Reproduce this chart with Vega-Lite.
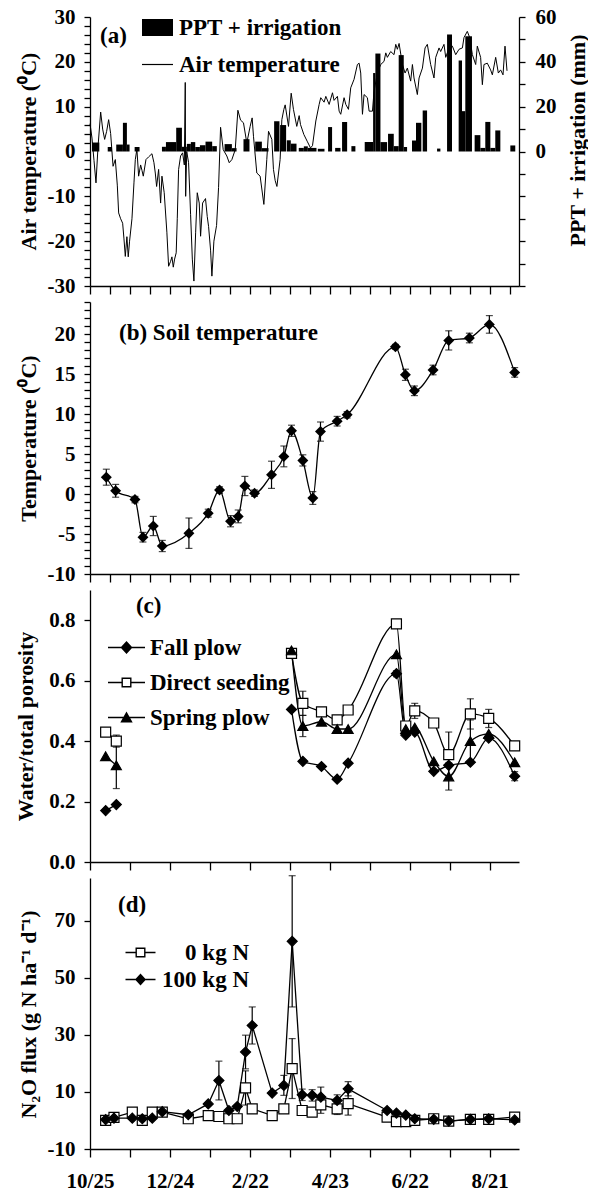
{
  "$schema": "https://vega.github.io/schema/vega-lite/v6.json",
  "background": "white",
  "padding": {"left": 14, "top": 6, "right": 0, "bottom": 0},
  "spacing": 16,
  "bounds": "flush",
  "config": {
    "view": {"stroke": null},
    "font": "Liberation Serif",
    "axis": {
      "labelFont": "Liberation Serif", "labelFontSize": 21, "labelFontWeight": "bold", "labelColor": "black",
      "titleFont": "Liberation Serif", "titleFontSize": 22, "titleFontWeight": "bold", "titleColor": "black",
      "domainColor": "black", "domainWidth": 1.3, "tickColor": "black", "tickWidth": 1.3,
      "grid": false, "labelFlush": false, "labelOverlap": false, "labelPadding": 9
    },
    "legend": {
      "labelFont": "Liberation Serif", "labelFontSize": 23, "labelFontWeight": "bold", "labelColor": "black",
      "labelLimit": 0, "padding": 0, "symbolSize": 400, "symbolFillColor": "black", "symbolStrokeWidth": 0,
      "symbolOpacity": 1
    },
    "title": {"font": "Liberation Serif", "fontWeight": "bold", "fontSize": 23, "color": "black"},
    "text": {"font": "Liberation Serif", "fontWeight": "bold", "fontSize": 23, "color": "black"}
  },
  "datasets": {
    "air": [
      {"day":0,"temp":6.2},{"day":1.5,"temp":3},{"day":3,"temp":-2},{"day":4.5,"temp":-7},{"day":6,"temp":1},
      {"day":8,"temp":8.8},{"day":9.5,"temp":5},{"day":11,"temp":2.7},{"day":12.5,"temp":4.5},{"day":14,"temp":7.1},
      {"day":15.5,"temp":4},{"day":17.3,"temp":-3.3},{"day":19,"temp":-1.8},{"day":20.5,"temp":-7.5},{"day":21.5,"temp":-13.7},
      {"day":23,"temp":-15},{"day":24.5,"temp":-16},{"day":25.5,"temp":-19.5},{"day":26.5,"temp":-23.4},{"day":27.7,"temp":-19},
      {"day":28.7,"temp":-23.5},{"day":29.7,"temp":-20},{"day":31.5,"temp":-15},{"day":33,"temp":-7},{"day":34,"temp":-1.8},
      {"day":35.2,"temp":0.5},{"day":36.5,"temp":-5.5},{"day":38,"temp":-3},{"day":39,"temp":-4.2},{"day":40,"temp":-5.5},
      {"day":42,"temp":-1.8},{"day":44,"temp":-1.2},{"day":46.5,"temp":-0.5},{"day":48,"temp":-2.5},{"day":49,"temp":-4.8},
      {"day":50,"temp":-7.8},{"day":51.5,"temp":-4},{"day":53,"temp":-11.5},{"day":54,"temp":-5.5},{"day":55.7,"temp":-9.2},
      {"day":57.7,"temp":-18},{"day":59,"temp":-25.6},{"day":60.5,"temp":-24.5},{"day":61.5,"temp":-23.5},{"day":62.5,"temp":-25.8},
      {"day":63.5,"temp":-24},{"day":64.7,"temp":-22.6},{"day":65.5,"temp":-15},{"day":66.5,"temp":-4},{"day":68,"temp":-1},
      {"day":69.5,"temp":-0.3},{"day":70.8,"temp":-3},{"day":71.5,"temp":15.4},{"day":71.8,"temp":-10},{"day":72.6,"temp":0},
      {"day":74,"temp":-2.5},{"day":75.5,"temp":-14},{"day":76.8,"temp":-24},{"day":78,"temp":-28.9},{"day":79.3,"temp":-18},
      {"day":80.5,"temp":-9.2},{"day":82,"temp":-11.5},{"day":83,"temp":-18.9},{"day":84.5,"temp":-11.5},{"day":86.7,"temp":-10.5},
      {"day":88,"temp":-14.5},{"day":89,"temp":-16.7},{"day":90.5,"temp":-22},{"day":91.5,"temp":-27.8},{"day":93,"temp":-20},
      {"day":95,"temp":-16.5},{"day":96.5,"temp":-8},{"day":98,"temp":5.4},{"day":100,"temp":0.4},{"day":102.7,"temp":-1},
      {"day":104.5,"temp":-2.5},{"day":106.5,"temp":-1.8},{"day":109,"temp":0.4},{"day":111,"temp":9.2},{"day":113,"temp":7},
      {"day":115.2,"temp":6.4},{"day":117.7,"temp":1.9},{"day":120.2,"temp":5.6},{"day":121.7,"temp":7.5},{"day":122.7,"temp":3.4},
      {"day":125.2,"temp":-4.8},{"day":127.7,"temp":-5.5},{"day":130.5,"temp":-11.8},{"day":132.7,"temp":-1.8},{"day":134,"temp":4.5},
      {"day":136.5,"temp":2.7},{"day":137.7,"temp":-4},{"day":139,"temp":-6.5},{"day":140.3,"temp":-7.8},{"day":142.7,"temp":-1.8},
      {"day":144,"temp":7.1},{"day":145.5,"temp":9.4},{"day":146.5,"temp":10.4},{"day":149,"temp":5.6},{"day":151,"temp":13},
      {"day":152.7,"temp":9.4},{"day":155.2,"temp":5.6},{"day":157,"temp":8},{"day":158,"temp":6},{"day":160.5,"temp":3.8},
      {"day":163,"temp":2.3},{"day":165.5,"temp":0.8},{"day":167,"temp":1.3},{"day":169.5,"temp":6.8},{"day":172,"temp":10.5},
      {"day":173.2,"temp":12},{"day":175.7,"temp":11},{"day":177,"temp":12.3},{"day":179.5,"temp":10.5},{"day":182,"temp":13.1},
      {"day":183.2,"temp":11.4},{"day":185.7,"temp":12.3},{"day":187,"temp":9},{"day":188.2,"temp":8.3},{"day":190.7,"temp":12},
      {"day":192,"temp":10.5},{"day":194,"temp":9.4},{"day":195.7,"temp":14.2},{"day":198.2,"temp":16.1},{"day":200.7,"temp":19.4},
      {"day":202,"temp":19.7},{"day":203.2,"temp":17.5},{"day":204.5,"temp":8.3},{"day":205.7,"temp":12.7},{"day":208.2,"temp":12},
      {"day":209.5,"temp":9},{"day":212,"temp":9},{"day":213.2,"temp":13.4},{"day":215.7,"temp":17.5},{"day":218.2,"temp":19.4},
      {"day":220.7,"temp":20.1},{"day":222,"temp":22},{"day":223.2,"temp":21},{"day":225.7,"temp":22.3},{"day":228.2,"temp":21.6},
      {"day":229.5,"temp":23.9},{"day":230.7,"temp":22.8},{"day":232,"temp":24.1},{"day":234.5,"temp":19.4},{"day":236.5,"temp":17.5},
      {"day":238.2,"temp":18.6},{"day":240.7,"temp":15.7},{"day":242,"temp":19.4},{"day":243.2,"temp":16.4},{"day":245.7,"temp":12.7},
      {"day":247,"temp":16.4},{"day":249.5,"temp":18.6},{"day":251.5,"temp":23.1},{"day":253.2,"temp":23.9},{"day":255.7,"temp":19.4},
      {"day":258.2,"temp":16.4},{"day":259.5,"temp":21},{"day":262,"temp":23.1},{"day":263.2,"temp":22.3},{"day":265.7,"temp":23.9},
      {"day":267,"temp":21},{"day":269.5,"temp":23.1},{"day":272,"temp":23.5},{"day":274.5,"temp":21.6},{"day":277,"temp":22.8},
      {"day":279.5,"temp":23.1},{"day":280.7,"temp":25.4},{"day":283.2,"temp":26.8},{"day":285,"temp":25.4},{"day":287,"temp":21.6},
      {"day":289.5,"temp":19.4},{"day":290.7,"temp":23.5},{"day":293.2,"temp":21},{"day":294.5,"temp":14.9},{"day":295.7,"temp":19.4},
      {"day":298.2,"temp":19.7},{"day":300.7,"temp":18.2},{"day":302,"temp":17.1},{"day":304.5,"temp":21},{"day":306.5,"temp":17.5},
      {"day":308.2,"temp":18.2},{"day":310,"temp":17.1},{"day":311.5,"temp":23.5},{"day":313,"temp":18}
    ],
    "rain": [
      {"day":1.5,"end":7,"mm":4},{"day":13.3,"end":16.5,"mm":2},{"day":19.7,"end":24.7,"mm":3.1},{"day":24.7,"end":27.7,"mm":12.8},
      {"day":27.7,"end":29.7,"mm":3.1},{"day":33.5,"end":37.2,"mm":2},{"day":54,"end":57,"mm":2.1},{"day":57,"end":64.7,"mm":4.2},
      {"day":64.7,"end":69,"mm":10.6},{"day":69,"end":72.7,"mm":2.1},{"day":72.7,"end":75.7,"mm":3.4},{"day":75.7,"end":79,"mm":4.2},
      {"day":79,"end":82.5,"mm":2},{"day":82.5,"end":86.7,"mm":2.8},{"day":86.7,"end":91.7,"mm":4.4},{"day":91.7,"end":95.2,"mm":2.4},
      {"day":101,"end":106.5,"mm":3.3},{"day":106.5,"end":110,"mm":1.5},{"day":115.2,"end":119.7,"mm":5.5},{"day":124,"end":129,"mm":4.4},
      {"day":129,"end":134,"mm":1.5},{"day":138.2,"end":142.2,"mm":13.5},{"day":142.7,"end":147.2,"mm":11.8},{"day":147.7,"end":150.7,"mm":5},
      {"day":150.7,"end":155,"mm":3.5},{"day":156.7,"end":160.5,"mm":1.6},{"day":160.5,"end":163.5,"mm":2.3},{"day":163.5,"end":170,"mm":1.6},
      {"day":171,"end":176,"mm":1.2},{"day":178.7,"end":181.7,"mm":10.9},{"day":184,"end":188,"mm":1.6},{"day":189.2,"end":193,"mm":13.2},
      {"day":196.2,"end":199.2,"mm":2.4},{"day":206.2,"end":212.5,"mm":4.2},{"day":212.5,"end":214.2,"mm":35},{"day":214.2,"end":218,"mm":43.7},
      {"day":218,"end":223,"mm":4.2},{"day":223.7,"end":228,"mm":7.9},{"day":228,"end":231.7,"mm":2.4},{"day":231.7,"end":235.5,"mm":43},
      {"day":235.5,"end":238,"mm":2},{"day":241.7,"end":244.7,"mm":4.9},{"day":244.7,"end":248.7,"mm":12.8},{"day":249.7,"end":253,"mm":18.3},
      {"day":260.5,"end":263,"mm":1.3},{"day":268,"end":271.7,"mm":52.2},{"day":276.7,"end":279.2,"mm":40.6},{"day":279.2,"end":281.7,"mm":18},
      {"day":281.7,"end":286.7,"mm":51.4},{"day":288.7,"end":293,"mm":7.3},{"day":293,"end":296.7,"mm":1.6},{"day":296.7,"end":300.5,"mm":13.2},
      {"day":300.5,"end":304.2,"mm":1.6},{"day":304.2,"end":308,"mm":9.4},{"day":315.5,"end":319.2,"mm":2.7}
    ],
    "soil": [
      {"day":12.25,"temp":2.1,"err":1.0},{"day":19.25,"temp":0.4,"err":0.8},{"day":33.75,"temp":-0.7,"err":0.4},
      {"day":39.75,"temp":-5.4,"err":0.6},{"day":47.5,"temp":-4.0,"err":1.2},{"day":54.25,"temp":-6.5,"err":0.7},
      {"day":74.25,"temp":-4.9,"err":1.9},{"day":88.75,"temp":-2.4,"err":0.5},{"day":97.25,"temp":0.5,"err":0.4},
      {"day":105.5,"temp":-3.4,"err":0.7},{"day":111.25,"temp":-2.8,"err":0.8},{"day":116.25,"temp":1.0,"err":1.2},
      {"day":123.5,"temp":0.1,"err":0.4},{"day":136.25,"temp":2.4,"err":1.7},{"day":145.5,"temp":4.7,"err":1.3},
      {"day":151.25,"temp":7.9,"err":0.7},{"day":159.75,"temp":4.2,"err":0.7},{"day":167.25,"temp":-0.5,"err":0.8},
      {"day":173,"temp":7.8,"err":1.2},{"day":185.5,"temp":9.1,"err":0.6},{"day":193,"temp":9.9,"err":0.4},
      {"day":229.25,"temp":18.4,"err":0.3},{"day":236.75,"temp":14.9,"err":0.7},{"day":243.5,"temp":12.9,"err":0.6},
      {"day":257.5,"temp":15.5,"err":0.6},{"day":269.25,"temp":19.2,"err":1.2},{"day":284.75,"temp":19.5,"err":0.6},
      {"day":299.75,"temp":21.2,"err":1.1},{"day":318.75,"temp":15.2,"err":0.6}
    ],
    "water": [
      {"series":"Fall plow","seg":1,"day":11.75,"v":0.17},{"series":"Fall plow","seg":1,"day":19.75,"v":0.19},
      {"series":"Fall plow","seg":2,"day":151.25,"v":0.505},{"series":"Fall plow","seg":2,"day":159.75,"v":0.333},
      {"series":"Fall plow","seg":2,"day":173.75,"v":0.316},{"series":"Fall plow","seg":2,"day":185.5,"v":0.274},
      {"series":"Fall plow","seg":2,"day":193.75,"v":0.327},{"series":"Fall plow","seg":2,"day":230,"v":0.623,"err":0.01},
      {"series":"Fall plow","seg":2,"day":237,"v":0.42},{"series":"Fall plow","seg":2,"day":243.75,"v":0.43},
      {"series":"Fall plow","seg":2,"day":258,"v":0.30},{"series":"Fall plow","seg":2,"day":269.25,"v":0.32},
      {"series":"Fall plow","seg":2,"day":285.5,"v":0.33},{"series":"Fall plow","seg":2,"day":299.25,"v":0.41},
      {"series":"Fall plow","seg":2,"day":318.75,"v":0.284,"err":0.015},
      {"series":"Direct seeding","seg":1,"day":11.75,"v":0.43},{"series":"Direct seeding","seg":1,"day":19.75,"v":0.40,"err":0.02},
      {"series":"Direct seeding","seg":2,"day":151.25,"v":0.69},{"series":"Direct seeding","seg":2,"day":159.75,"v":0.525,"err":0.04},
      {"series":"Direct seeding","seg":2,"day":173.75,"v":0.497},{"series":"Direct seeding","seg":2,"day":185.5,"v":0.47},
      {"series":"Direct seeding","seg":2,"day":193.75,"v":0.503},{"series":"Direct seeding","seg":2,"day":230,"v":0.788,"err":0.01},
      {"series":"Direct seeding","seg":2,"day":237,"v":0.45},{"series":"Direct seeding","seg":2,"day":243.75,"v":0.50,"err":0.025},
      {"series":"Direct seeding","seg":2,"day":258,"v":0.46},{"series":"Direct seeding","seg":2,"day":269.25,"v":0.355,"err":0.075},
      {"series":"Direct seeding","seg":2,"day":285.5,"v":0.49,"err":0.05},{"series":"Direct seeding","seg":2,"day":299.25,"v":0.475,"err":0.03},
      {"series":"Direct seeding","seg":2,"day":318.75,"v":0.384},
      {"series":"Spring plow","seg":1,"day":11.75,"v":0.35},{"series":"Spring plow","seg":1,"day":19.75,"v":0.32,"err":0.077},
      {"series":"Spring plow","seg":2,"day":151.25,"v":0.70},{"series":"Spring plow","seg":2,"day":159.75,"v":0.45,"err":0.035},
      {"series":"Spring plow","seg":2,"day":173.75,"v":0.464},{"series":"Spring plow","seg":2,"day":185.5,"v":0.44},
      {"series":"Spring plow","seg":2,"day":193.75,"v":0.44},{"series":"Spring plow","seg":2,"day":230,"v":0.687},
      {"series":"Spring plow","seg":2,"day":237,"v":0.44},{"series":"Spring plow","seg":2,"day":243.75,"v":0.445},
      {"series":"Spring plow","seg":2,"day":258,"v":0.333},{"series":"Spring plow","seg":2,"day":269.25,"v":0.283,"err":0.045},
      {"series":"Spring plow","seg":2,"day":285.5,"v":0.40,"err":0.07},{"series":"Spring plow","seg":2,"day":299.25,"v":0.424},
      {"series":"Spring plow","seg":2,"day":318.75,"v":0.33}
    ],
    "n2o": [
      {"rate":"0 kg N","day":11.75,"v":0.0},{"rate":"0 kg N","day":18,"v":1.1},{"rate":"0 kg N","day":31.75,"v":2.9},
      {"rate":"0 kg N","day":39.25,"v":0.0},{"rate":"0 kg N","day":46.75,"v":2.9},{"rate":"0 kg N","day":54.25,"v":2.9},
      {"rate":"0 kg N","day":73.75,"v":0.6},{"rate":"0 kg N","day":88.75,"v":1.7},{"rate":"0 kg N","day":96.75,"v":1.4},
      {"rate":"0 kg N","day":104.25,"v":0.6},{"rate":"0 kg N","day":110.5,"v":0.6},{"rate":"0 kg N","day":116.75,"v":11.4,"err":6},
      {"rate":"0 kg N","day":121.75,"v":4.1},{"rate":"0 kg N","day":136.75,"v":1.7},{"rate":"0 kg N","day":145.5,"v":4.1},
      {"rate":"0 kg N","day":151.75,"v":18.2,"err":10.5},{"rate":"0 kg N","day":159.25,"v":3.5},{"rate":"0 kg N","day":166.75,"v":2.9},
      {"rate":"0 kg N","day":173.25,"v":5.5,"err":3},{"rate":"0 kg N","day":185.5,"v":4.1,"err":2},{"rate":"0 kg N","day":193.75,"v":5.9,"err":4},
      {"rate":"0 kg N","day":223,"v":1.2},{"rate":"0 kg N","day":230,"v":-0.4},{"rate":"0 kg N","day":237,"v":-0.4},
      {"rate":"0 kg N","day":243.75,"v":0.0},{"rate":"0 kg N","day":258,"v":0.6},{"rate":"0 kg N","day":269.25,"v":-0.2},
      {"rate":"0 kg N","day":285.5,"v":0.4},{"rate":"0 kg N","day":299.25,"v":0.4},{"rate":"0 kg N","day":318.75,"v":1.2},
      {"rate":"100 kg N","day":11.75,"v":0.3},{"rate":"100 kg N","day":18,"v":0.8},{"rate":"100 kg N","day":31.75,"v":0.8},
      {"rate":"100 kg N","day":39.25,"v":0.6},{"rate":"100 kg N","day":46.75,"v":0.8},{"rate":"100 kg N","day":54.25,"v":3.1},
      {"rate":"100 kg N","day":73.75,"v":2.0},{"rate":"100 kg N","day":88.75,"v":5.8},{"rate":"100 kg N","day":96.75,"v":14.0,"err":6.8},
      {"rate":"100 kg N","day":104.25,"v":3.5},{"rate":"100 kg N","day":110.5,"v":4.9},{"rate":"100 kg N","day":116.75,"v":24.0,"err":5.9},
      {"rate":"100 kg N","day":121.75,"v":33.3,"err":6.5},{"rate":"100 kg N","day":136.75,"v":9.6},{"rate":"100 kg N","day":145.5,"v":12.3,"err":3.5},
      {"rate":"100 kg N","day":151.75,"v":62.8,"err":23},{"rate":"100 kg N","day":159.25,"v":9.0,"err":2},{"rate":"100 kg N","day":166.75,"v":8.8,"err":2},
      {"rate":"100 kg N","day":173.25,"v":8.2,"err":3.5},{"rate":"100 kg N","day":185.5,"v":7.0,"err":2},{"rate":"100 kg N","day":193.75,"v":11.1,"err":2.5},
      {"rate":"100 kg N","day":223,"v":3.5},{"rate":"100 kg N","day":230,"v":2.6},{"rate":"100 kg N","day":237,"v":1.9},
      {"rate":"100 kg N","day":243.75,"v":0.6},{"rate":"100 kg N","day":258,"v":0.4},{"rate":"100 kg N","day":269.25,"v":-0.2},
      {"rate":"100 kg N","day":285.5,"v":0.4},{"rate":"100 kg N","day":299.25,"v":0.6},{"rate":"100 kg N","day":318.75,"v":0.2}
    ]
  },
  "vconcat": [
    {
      "width": 429, "height": 269,
      "title": {"text": "(a)", "anchor": "start", "frame": "group", "dx": 10, "offset": -53, "baseline": "middle"},
      "layer": [
        {
          "data": {"name": "rain"},
          "mark": {"type": "rect", "color": "black"},
          "encoding": {
            "x": {"field": "day", "type": "quantitative", "title": null,
              "scale": {"domain": [0, 322], "nice": false, "zero": false},
              "axis": {"values": [0,15,30,45,60,75,90,105,120,135,150,165,180,195,210,225,240,255,270,285,300,315],
                "labels": false, "tickSize": 8, "labelOverlap": false, "labelFlush": false,
                "encode": {"ticks": {"update": {"y2": {"signal": "datum.value % 60 === 0 ? 8 : -4"}}}}}},
            "x2": {"field": "end"},
            "y": {"field": "mm", "type": "quantitative",
              "scale": {"domain": [-60, 60], "nice": false, "zero": false},
              "axis": {"orient": "right", "values": [-60,-50,-40,-30,-20,-10,0,10,20,30,40,50,60],
                "labelExpr": "datum.value >= 0 && datum.value % 20 === 0 ? '' + datum.value : ''",
                "tickSize": 6, "labelPadding": 10, "labelOverlap": false,
                "encode": {"ticks": {"update": {"x2": {"signal": "datum.value % 20 === 0 ? 6 : -4"}}}},
                "title": "PPT + irrigation (mm)", "titleAngle": 270, "titleBaseline": "alphabetic",
                "titleX": 65, "titleY": 123}},
            "y2": {"datum": 0}
          }
        },
        {
          "encoding": {
            "x": {"field": "day", "type": "quantitative", "title": null,
              "scale": {"domain": [0, 322], "nice": false, "zero": false},
              "axis": {"values": [0,15,30,45,60,75,90,105,120,135,150,165,180,195,210,225,240,255,270,285,300,315],
                "labels": false, "tickSize": 8, "labelOverlap": false, "labelFlush": false,
                "encode": {"ticks": {"update": {"y2": {"signal": "datum.value % 60 === 0 ? 8 : -4"}}}}}},
            "y": {"field": "temp", "type": "quantitative",
              "scale": {"domain": [-30, 30], "nice": false, "zero": false},
              "axis": {"values": [-30,-28,-26,-24,-22,-20,-18,-16,-14,-12,-10,-8,-6,-4,-2,0,2,4,6,8,10,12,14,16,18,20,22,24,26,28,30],
                "labelExpr": "datum.value % 10 === 0 ? '' + datum.value : ''",
                "tickSize": 6, "labelOverlap": false,
                "encode": {"ticks": {"update": {"x2": {"signal": "datum.value % 10 === 0 ? -6 : 4"}}}},
                "title": "Air temperature (⁰C)", "titleAngle": 270, "titleBaseline": "alphabetic",
                "titleX": -55, "titleY": 134}}
          },
          "layer": [
            {
              "data": {"name": "air"},
              "mark": {"type": "line", "color": "black", "strokeWidth": 1}
            },
            {
              "data": {"name": "air"},
              "transform": [{"filter": "false"}],
              "mark": {"type": "point", "filled": true, "color": "black"},
              "encoding": {
                "shape": {"field": "series", "type": "nominal",
                  "scale": {"domain": ["PPT + irrigation", "Air temperature"],
                    "range": ["M-1.55,-0.85H1.55V0.85H-1.55Z", "M-1.55,-0.06H1.55V0.06H-1.55Z"]},
                  "legend": {"orient": "none", "legendX": 56, "legendY": -1, "title": null,
                    "labelOffset": 10, "rowPadding": 13}}
              }
            }
          ]
        }
      ],
      "resolve": {"scale": {"y": "independent"}}
    },
    {
      "width": 429, "height": 272,
      "title": {"text": "(b) Soil temperature", "anchor": "start", "frame": "group", "dx": 29, "offset": -65, "baseline": "middle"},
      "encoding": {
        "x": {"field": "day", "type": "quantitative", "title": null,
          "scale": {"domain": [0, 322], "nice": false, "zero": false},
          "axis": {"values": [0,15,30,45,60,75,90,105,120,135,150,165,180,195,210,225,240,255,270,285,300,315],
            "labels": false, "tickSize": 8, "labelOverlap": false, "labelFlush": false,
            "encode": {"ticks": {"update": {"y2": {"signal": "datum.value % 60 === 0 ? 8 : -4"}}}}}},
        "y": {"field": "temp", "type": "quantitative",
          "scale": {"domain": [-10, 24], "nice": false, "zero": false},
          "axis": {"values": [-10,-9,-8,-7,-6,-5,-4,-3,-2,-1,0,1,2,3,4,5,6,7,8,9,10,11,12,13,14,15,16,17,18,19,20,21,22,23,24],
            "labelExpr": "datum.value % 5 === 0 && datum.value <= 20 ? '' + datum.value : ''",
            "tickSize": 6, "labelOverlap": false,
            "encode": {"ticks": {"update": {"x2": {"signal": "datum.value % 5 === 0 ? -6 : 4"}}}},
            "title": "Temperature (⁰C)", "titleAngle": 270, "titleBaseline": "alphabetic",
            "titleX": -55, "titleY": 136}}
      },
      "layer": [
        {
          "data": {"name": "soil"},
          "mark": {"type": "errorbar", "ticks": true, "size": 7, "thickness": 1.2, "color": "black"},
          "encoding": {"yError": {"field": "err"}}
        },
        {
          "data": {"name": "soil"},
          "mark": {"type": "line", "color": "black", "strokeWidth": 1.3, "interpolate": "monotone"}
        },
        {
          "data": {"name": "soil"},
          "mark": {"type": "point", "shape": "diamond", "filled": true, "color": "black", "size": 120, "opacity": 1}
        }
      ]
    },
    {
      "width": 429, "height": 272,
      "layer": [
        {
          "encoding": {
            "x": {"field": "day", "type": "quantitative", "title": null,
              "scale": {"domain": [0, 322], "nice": false, "zero": false},
              "axis": {"values": [0,15,30,45,60,75,90,105,120,135,150,165,180,195,210,225,240,255,270,285,300,315],
                "labels": false, "tickSize": 8, "labelOverlap": false, "labelFlush": false,
                "encode": {"ticks": {"update": {"y2": {"signal": "datum.value % 60 === 0 ? 8 : -4"}}}}}},
            "y": {"field": "v", "type": "quantitative",
              "scale": {"domain": [0, 0.9], "nice": false, "zero": false},
              "axis": {"values": [0,0.05,0.1,0.15,0.2,0.25,0.3,0.35,0.4,0.45,0.5,0.55,0.6,0.65,0.7,0.75,0.8,0.85,0.9],
                "labelExpr": "abs(datum.value * 5 - round(datum.value * 5)) < 0.001 && datum.value < 0.85 ? format(datum.value, '.1f') : ''",
                "tickSize": 6, "labelOverlap": false,
                "encode": {"ticks": {"update": {"x2": {"signal": "abs(datum.value * 5 - round(datum.value * 5)) < 0.001 ? -6 : 4"}}}},
                "title": "Water/total porosity", "titleAngle": 270, "titleBaseline": "alphabetic",
                "titleX": -58, "titleY": 136}}
          },
          "layer": [
            {
              "data": {"name": "water"},
              "transform": [{"filter": "isValid(datum.err)"}],
              "mark": {"type": "errorbar", "ticks": true, "size": 7, "thickness": 1.2, "color": "black"},
              "encoding": {"yError": {"field": "err"}}
            },
            {
              "data": {"name": "water"},
              "mark": {"type": "line", "color": "black", "strokeWidth": 1.3, "interpolate": "monotone"},
              "encoding": {"detail": [{"field": "series"}, {"field": "seg"}]}
            },
            {
              "data": {"name": "water"},
              "mark": {"type": "point", "filled": true, "stroke": "black", "strokeWidth": 1.2, "size": 100, "opacity": 1},
              "encoding": {
                "shape": {"field": "series", "type": "nominal",
                  "scale": {"domain": ["Fall plow", "Direct seeding", "Spring plow"], "range": ["diamond", "square", "triangle-up"]},
                  "legend": null},
                "fill": {"field": "series", "type": "nominal",
                  "scale": {"domain": ["Fall plow", "Direct seeding", "Spring plow"], "range": ["black", "white", "black"]},
                  "legend": null}
              }
            },
            {
              "data": {"name": "water"},
              "transform": [{"filter": "false"}],
              "mark": {"type": "point", "filled": true, "color": "black"},
              "encoding": {
                "shape": {"field": "series", "type": "nominal",
                  "scale": {"domain": ["Fall plow", "Direct seeding", "Spring plow"],
                    "range": [
                      "M-1.85,-0.07H1.85V0.07H-1.85Z M0,-0.65L0.6,0L0,0.65L-0.6,0Z",
                      "M-1.85,-0.07H-0.5V0.07H-1.85Z M0.5,-0.07H1.85V0.07H0.5Z M-0.5,-0.5H0.5V0.5H-0.5Z M-0.36,-0.36V0.36H0.36V-0.36Z",
                      "M-1.85,-0.07H1.85V0.07H-1.85Z M0,-0.6L0.62,0.5H-0.62Z"
                    ]},
                  "legend": {"orient": "none", "legendX": 25, "legendY": 46, "title": null,
                    "labelOffset": 12, "rowPadding": 11}}
              }
            }
          ],
          "resolve": {"scale": {"shape": "independent"}}
        },
        {
          "data": {"values": [{}]},
          "mark": {"type": "text", "align": "left", "baseline": "middle"},
          "encoding": {"x": {"datum": 34.5, "type": "quantitative"}, "y": {"datum": 0.848, "type": "quantitative"}, "text": {"value": "(c)"}}
        }
      ]
    },
    {
      "width": 429, "height": 271,
      "layer": [
        {
          "encoding": {
            "x": {"field": "day", "type": "quantitative", "title": null,
              "scale": {"domain": [0, 322], "nice": false, "zero": false},
              "axis": {"values": [0,15,30,45,60,75,90,105,120,135,150,165,180,195,210,225,240,255,270,285,300,315],
                "labelExpr": "datum.value % 60 === 0 ? ['10/25','12/24','2/22','4/23','6/22','8/21'][datum.value / 60] : ''",
                "labelPadding": 13, "tickSize": 8, "labelOverlap": false, "labelFlush": false,
                "encode": {"ticks": {"update": {"y2": {"signal": "datum.value % 60 === 0 ? 8 : -4"}}}}}},
            "y": {"field": "v", "type": "quantitative",
              "scale": {"domain": [-10, 85], "nice": false, "zero": false},
              "axis": {"values": [-10,-5,0,5,10,15,20,25,30,35,40,45,50,55,60,65,70,75,80,85],
                "labelExpr": "(datum.value + 10) % 20 === 0 ? '' + datum.value : ''",
                "tickSize": 6, "labelOverlap": false,
                "encode": {"ticks": {"update": {"x2": {"signal": "(datum.value + 10) % 20 === 0 ? -6 : 4"}}}},
                "title": "N₂O flux (g N ha⁻¹ d⁻¹)", "titleAngle": 270, "titleBaseline": "alphabetic",
                "titleX": -55, "titleY": 136}}
          },
          "layer": [
            {
              "data": {"name": "n2o"},
              "transform": [{"filter": "isValid(datum.err)"}],
              "mark": {"type": "errorbar", "ticks": true, "size": 7, "thickness": 1.2, "color": "black"},
              "encoding": {"yError": {"field": "err"}}
            },
            {
              "data": {"name": "n2o"},
              "mark": {"type": "line", "color": "black", "strokeWidth": 1.3},
              "encoding": {"detail": {"field": "rate"}}
            },
            {
              "data": {"name": "n2o"},
              "mark": {"type": "point", "filled": true, "stroke": "black", "strokeWidth": 1.2, "size": 100, "opacity": 1},
              "encoding": {
                "shape": {"field": "rate", "type": "nominal",
                  "scale": {"domain": ["0 kg N", "100 kg N"], "range": ["square", "diamond"]}, "legend": null},
                "fill": {"field": "rate", "type": "nominal",
                  "scale": {"domain": ["0 kg N", "100 kg N"], "range": ["white", "black"]}, "legend": null}
              }
            },
            {
              "data": {"name": "n2o"},
              "transform": [{"filter": "false"}],
              "mark": {"type": "point", "filled": true, "color": "black"},
              "encoding": {
                "shape": {"field": "rate", "type": "nominal",
                  "scale": {"domain": ["0 kg N", "100 kg N"],
                    "range": [
                      "M-1.5,-0.07H-0.5V0.07H-1.5Z M0.5,-0.07H1.5V0.07H0.5Z M-0.5,-0.5H0.5V0.5H-0.5Z M-0.36,-0.36V0.36H0.36V-0.36Z",
                      "M-1.5,-0.07H1.5V0.07H-1.5Z M0,-0.6L0.55,0L0,0.6L-0.55,0Z"
                    ]},
                  "legend": {"orient": "none", "legendX": 39, "legendY": 63, "title": null,
                    "labelOffset": 97, "labelAlign": "right", "rowPadding": 3}}
              }
            }
          ],
          "resolve": {"scale": {"shape": "independent", "fill": "independent"}}
        },
        {
          "data": {"values": [{}]},
          "mark": {"type": "text", "align": "left", "baseline": "middle"},
          "encoding": {"x": {"datum": 21, "type": "quantitative"}, "y": {"datum": 75.7, "type": "quantitative"}, "text": {"value": "(d)"}}
        }
      ]
    }
  ]
}
